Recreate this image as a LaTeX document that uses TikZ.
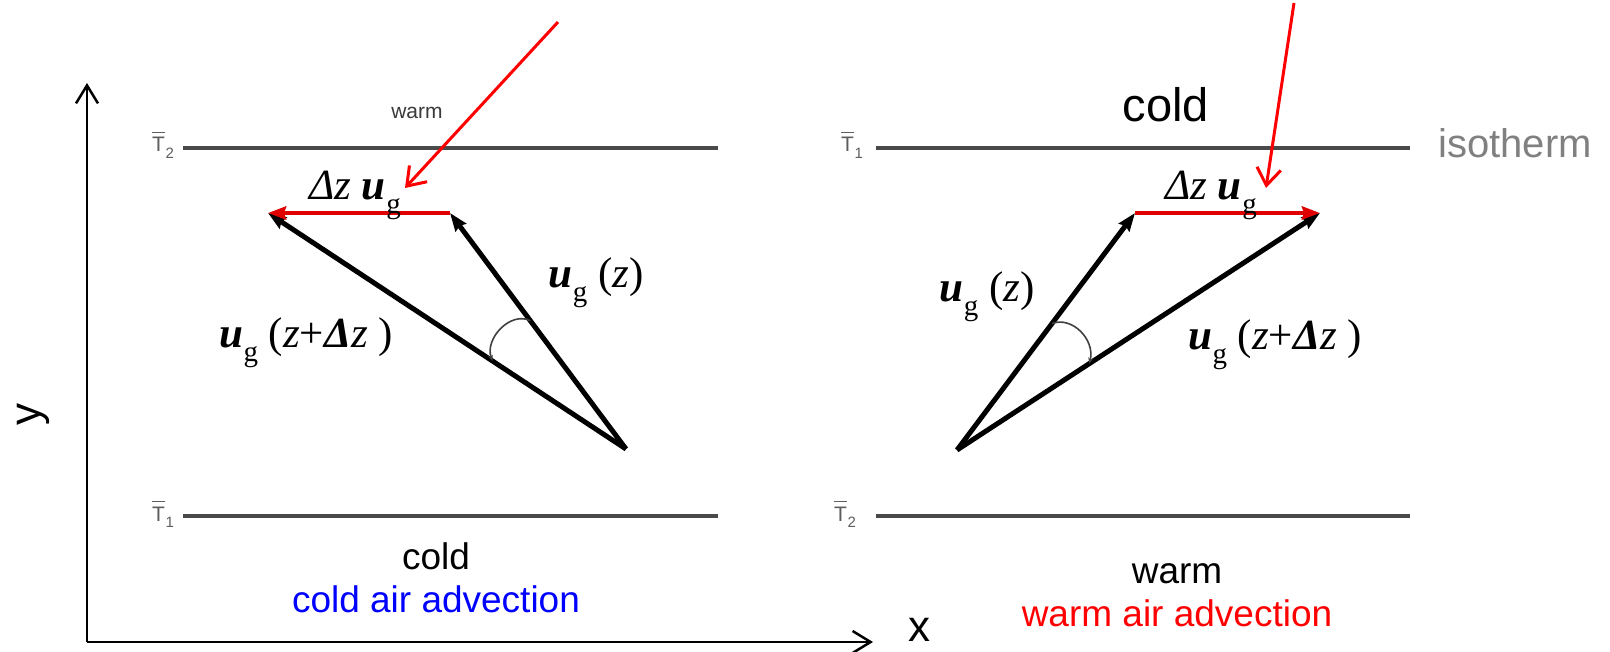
\documentclass[tikz,border=0pt]{standalone}
\usepackage{fontspec}
\setmainfont{Liberation Sans}
\newfontfamily\tnrfont{Liberation Serif}
\usetikzlibrary{arrows.meta,calc}
\definecolor{isogray}{HTML}{4A4A4A}
\definecolor{labgray}{HTML}{5E5E5E}
\definecolor{isotext}{HTML}{808080}
\definecolor{warmgray}{HTML}{3A3A3A}
\definecolor{vecred}{HTML}{E00000}
\definecolor{advblue}{HTML}{0000FF}
\definecolor{advred}{HTML}{FF0000}
\newcommand\barT[1]{\leavevmode\vbox{\hrule width 0.62em height 0.06em\kern0.2em\hbox{T}}\kern0.5pt\raisebox{-0.3em}{\fontsize{15}{15}\selectfont #1}}
\newcommand\ugv{{\bfseries\itshape u}\kern0.5pt\raisebox{-0.32em}{\fontsize{29}{29}\selectfont g}}
\begin{document}
\begin{tikzpicture}[x=1pt,y=-1pt,
 iso/.style={line width=3.2pt,draw=isogray},
 vec/.style={line width=5pt,-{Stealth[length=18pt,width=13pt,inset=2pt]}},
 redvec/.style={line width=4.5pt,draw=vecred,-{Stealth[length=18pt,width=13pt,inset=2pt]}},
 pointer/.style={line width=3pt,draw=advred,-{Straight Barb[length=17pt,width=24pt]}},
 axis/.style={line width=2.5pt,-{Straight Barb[length=18pt,width=22pt]}},
 mlab/.style={anchor=base,inner sep=0pt,font=\tnrfont\fontsize{43}{43}\selectfont},
 slab/.style={anchor=base,inner sep=0pt,font=\fontsize{37}{37}\selectfont},
 tlab/.style={anchor=base west,inner sep=0pt,text=labgray,font=\fontsize{21}{21}\selectfont},
 anglearc/.style={line width=1.6pt,draw=black!75,-{Stealth[length=6pt,width=5pt]}}
]
\fill[white] (0,0) rectangle (1610,652);
\useasboundingbox (0,0) rectangle (1610,652);

% axes
\coordinate (O) at (87,642);
\coordinate (ytip) at (87,83);
\coordinate (xtip) at (873,642);
\draw[axis] (O) -- (ytip);
\draw[axis] (O) -- (xtip);
\node[inner sep=0pt,rotate=90,font=\fontsize{44}{44}\selectfont] (ylab) at (33,414) {y};
\node[anchor=base,inner sep=0pt,font=\fontsize{44}{44}\selectfont] (xlab) at (919,641) {x};

% left panel isotherms
\coordinate (lt1) at (183,148); \coordinate (lt2) at (718,148);
\coordinate (lb1) at (183,516); \coordinate (lb2) at (718,516);
\draw[iso] (lt1) -- (lt2);
\draw[iso] (lb1) -- (lb2);
\node[tlab] (T2l) at (152,152) {\barT{2}};
\node[tlab] (T1l) at (152,521) {\barT{1}};
\node[anchor=base,inner sep=0pt,text=warmgray,font=\fontsize{21}{21}\selectfont] (warmtop) at (417,119) {warm};
\node[slab] (coldbot) at (436,569) {cold};
\node[slab,text=advblue] (cadv) at (436,612) {cold air advection};

% left triangle
\coordinate (LA) at (626,449);
\coordinate (L1) at (450,213);
\coordinate (L2) at (268,213);
\draw[vec] (LA) -- (L1);
\draw[vec] (LA) -- (L2);
\draw[redvec] (L1) -- (L2);
\coordinate (la1) at ($(LA)!160pt!(L1)$);
\coordinate (la2) at ($(LA)!160pt!(L2)$);
\draw[anglearc] (la1) .. controls ($(la1)+(-20,-10)$) and ($(la2)+(-8,-22)$) .. (la2);
\node[mlab] (dzl) at (355,200) {{\itshape Δz} \ugv};
\node[mlab] (ugzl) at (596,288) {\ugv\ ({\itshape z})};
\node[mlab] (ugdzl) at (306,348) {\ugv\ ({\itshape z}+{\bfseries\itshape Δ}{\itshape z}\ )};
\coordinate (pl0) at (558,22);
\coordinate (pl1) at (405,188);
\draw[pointer] (pl0) -- (pl1);

% right panel isotherms
\coordinate (rt1) at (876,148); \coordinate (rt2) at (1410,148);
\coordinate (rb1) at (876,516); \coordinate (rb2) at (1410,516);
\draw[iso] (rt1) -- (rt2);
\draw[iso] (rb1) -- (rb2);
\node[tlab] (T1r) at (841,152) {\barT{1}};
\node[tlab] (T2r) at (834,521) {\barT{2}};
\node[anchor=base,inner sep=0pt,font=\fontsize{47}{47}\selectfont] (coldtop) at (1166,122) {cold};
\node[anchor=base,inner sep=0pt,text=isotext,font=\fontsize{40}{40}\selectfont] (iso) at (1515,158) {isotherm};
\node[slab] (warmbot) at (1177,583) {warm};
\node[slab,text=advred] (wadv) at (1177,626) {warm air advection};

% right triangle
\coordinate (RA) at (957,450);
\coordinate (R1) at (1135,213);
\coordinate (R2) at (1320,213);
\draw[vec] (RA) -- (R1);
\draw[vec] (RA) -- (R2);
\draw[redvec] (R1) -- (R2);
\coordinate (ra1) at ($(RA)!158pt!(R1)$);
\coordinate (ra2) at ($(RA)!158pt!(R2)$);
\draw[anglearc] (ra1) .. controls ($(ra1)+(20,-8)$) and ($(ra2)+(6,-24)$) .. (ra2);
\node[mlab] (dzr) at (1211,200) {{\itshape Δz} \ugv};
\node[mlab] (ugzr) at (987,302) {\ugv\ ({\itshape z})};
\node[mlab] (ugdzr) at (1275,350) {\ugv\ ({\itshape z}+{\bfseries\itshape Δ}{\itshape z}\ )};
\coordinate (pr0) at (1294,3);
\coordinate (pr1) at (1266,188);
\draw[pointer] (pr0) -- (pr1);
\end{tikzpicture}
\end{document}
